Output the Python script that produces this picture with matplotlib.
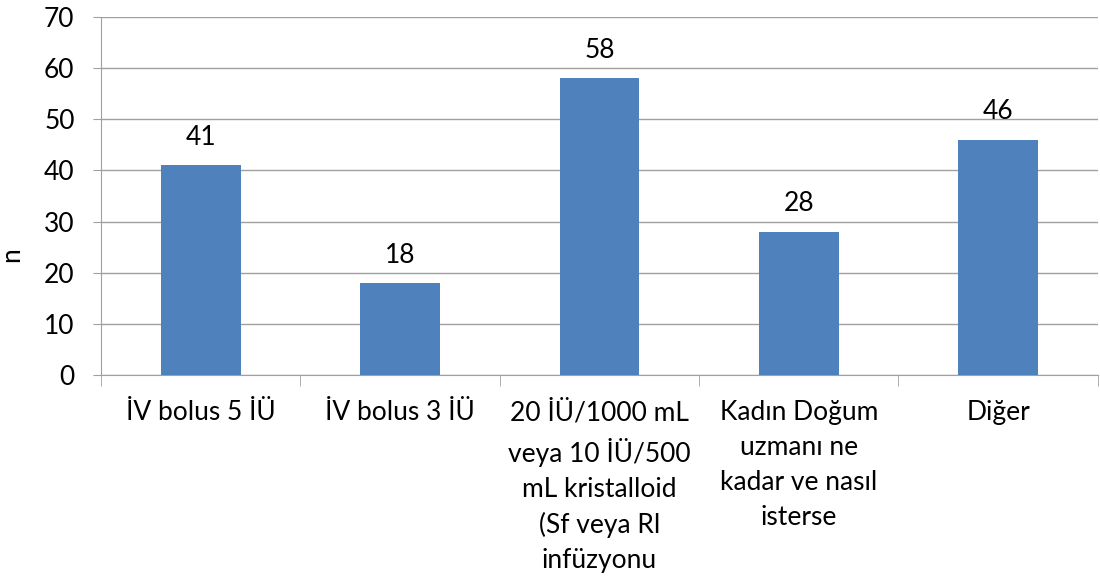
import numpy as np
import matplotlib.pyplot as plt

#
# data
categories = ['İV bolus 5 İÜ',
              'İV bolus 3 İÜ',
              '20 İÜ/1000 mL\nveya 10 İÜ/500\nmL kristalloid\n(Sf veya Rl\ninfüzyonu',
              'Kadın Doğum\nuzmanı ne\nkadar ve nasıl\nisterse',
              'Diğer']
values = [41, 18, 58, 28, 46]
yticks = [0, 10, 20, 30, 40, 50, 60, 70]

plt.rcParams['font.family'] = ['Lato', 'DejaVu Sans']
plt.rcParams['font.size'] = 19

fig = plt.figure(figsize=(11, 5.79), dpi=100)
ax = fig.add_axes([0.0918, 0.3523, 0.9062, 0.6183])

x = np.arange(len(values))
ax.bar(x, values, width=0.4, color='#4F81BD', zorder=3)
for xi, v in zip(x, values):
    ax.text(xi, v + 3.0, str(v), ha='center', va='bottom')

#
# axes
ax.set_xlim(-0.5, len(values) - 0.5)
ax.set_ylim(0, 70)
ax.set_yticks(yticks)
ax.yaxis.grid(True, color='#A0A0A0', linewidth=1, zorder=0)
ax.set_ylabel('n')
ax.yaxis.set_label_coords(-0.077, 0.335)
ax.tick_params(axis='y', length=6, color='#A0A0A0', pad=13)

ax.set_xticks(x)
ax.set_xticklabels(categories, linespacing=1.5)
ax.tick_params(axis='x', length=0, pad=18)
ax.set_xticks(np.arange(len(values) + 1) - 0.5, minor=True)
ax.tick_params(axis='x', which='minor', length=8, color='#A0A0A0')

for s in ['top', 'right']:
    ax.spines[s].set_visible(False)
for s in ['left', 'bottom']:
    ax.spines[s].set_color('#A0A0A0')

fig.savefig('out.png')
plt.close()
